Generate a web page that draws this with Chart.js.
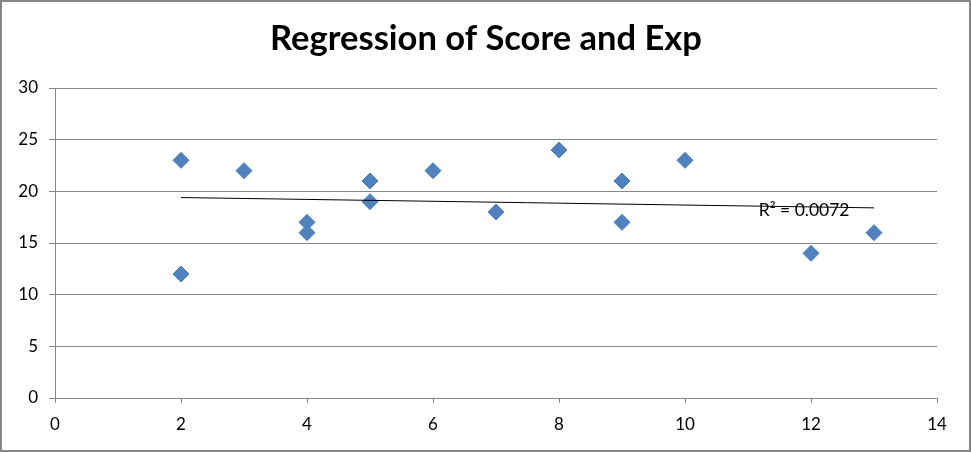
<!DOCTYPE html>
<html>
<head>
<meta charset="utf-8">
<script src="https://cdn.jsdelivr.net/npm/chart.js@4"></script>
<style>
  html, body { margin: 0; padding: 0; background: #fff; }
  #wrap { width: 971px; height: 452px; position: relative; }
</style>
</head>
<body>
<div id="wrap"><canvas id="chart" width="971" height="452"></canvas></div>
<script>
// Exp (x) and Score (y)
const expValues = [2, 2, 3, 4, 4, 5, 5, 6, 7, 8, 9, 9, 10, 12, 13];
const scoreValues = [23, 12, 22, 17, 16, 21, 19, 22, 18, 24, 21, 17, 23, 14, 16];
// linear trendline ends, as drawn
const trendX = [2, 13];
const trendY = [19.4, 18.4];
const xTicks = [0, 2, 4, 6, 8, 10, 12, 14];
const yTicks = [0, 5, 10, 15, 20, 25, 30];
const chartTitle = 'Regression of Score and Exp';
const r2Label = 'R² = 0.0072';

const GRAY = '#868686';
const FONT = 'Lato, Calibri, "DejaVu Sans", sans-serif';

const frame = {
    id: 'frame',
    beforeDraw(chart) {
        const { ctx, width, height } = chart;
        ctx.save();
        ctx.fillStyle = '#fff';
        ctx.fillRect(0, 0, width, height);
        ctx.restore();
    },
    afterDraw(chart) {
        const { ctx, width, height, scales } = chart;
        ctx.save();
        ctx.strokeStyle = GRAY;
        ctx.lineWidth = 2;
        ctx.strokeRect(1, 1, width - 2, height - 2);

        ctx.fillStyle = '#000';
        ctx.font = `bold 34.5px ${FONT}`;
        ctx.textAlign = 'center';
        ctx.textBaseline = 'alphabetic';
        ctx.fillText(chartTitle, 486, 50);

        ctx.font = `17.5px ${FONT}`;
        ctx.textAlign = 'left';
        ctx.fillText(r2Label, scales.x.getPixelForValue(11.17), scales.y.getPixelForValue(17.65));
        ctx.restore();
    },
};

new Chart(document.getElementById('chart').getContext('2d'), {
    type: 'scatter',
    data: {
        datasets: [
            {
                label: 'Trend',
                type: 'line',
                data: trendX.map((x, i) => ({ x, y: trendY[i] })),
                borderColor: '#000',
                borderWidth: 1,
                pointRadius: 0,
                fill: false,
                order: 0,
            },
            {
                label: 'Score',
                data: expValues.map((x, i) => ({ x, y: scoreValues[i] })),
                pointStyle: 'rectRot',
                pointRadius: 8,
                pointHoverRadius: 8,
                backgroundColor: '#4F81BD',
                borderColor: '#4F81BD',
                borderWidth: 1,
                order: 1,
            },
        ],
    },
    options: {
        responsive: false,
        animation: false,
        devicePixelRatio: 1,
        layout: { padding: { top: 88, right: 34, bottom: 0, left: 0 } },
        plugins: {
            legend: { display: false },
            title: { display: false },
            tooltip: { enabled: false },
        },
        scales: {
            x: {
                type: 'linear',
                min: 0,
                max: 14,
                afterBuildTicks: axis => { axis.ticks = xTicks.map(value => ({ value })); },
                afterFit: axis => { axis.height = 54; },
                ticks: { color: '#000', font: { family: FONT, size: 17 }, padding: 11, maxRotation: 0 },
                grid: { drawOnChartArea: false, drawTicks: true, tickLength: 5, color: GRAY },
                border: { color: GRAY, width: 1 },
            },
            y: {
                min: 0,
                max: 30,
                afterBuildTicks: axis => { axis.ticks = yTicks.map(value => ({ value })); },
                afterFit: axis => { axis.width = 55; },
                ticks: { color: '#000', font: { family: FONT, size: 17 }, padding: 11 },
                grid: { color: GRAY, tickLength: 6 },
                border: { color: GRAY, width: 1 },
            },
        },
    },
    plugins: [frame],
});
</script>
</body>
</html>
